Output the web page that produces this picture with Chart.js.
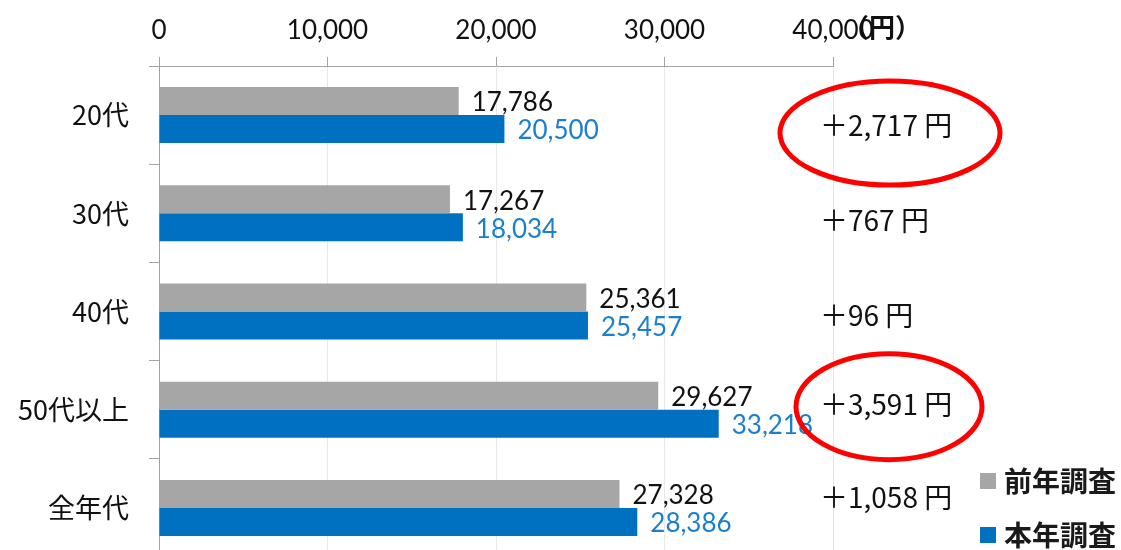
<!DOCTYPE html>
<html>
<head>
<meta charset="utf-8">
<script src="https://cdn.jsdelivr.net/npm/chart.js@4.4.1/dist/chart.umd.min.js"></script>
<style>
  html, body { margin: 0; padding: 0; background: #ffffff; overflow: hidden; }
  #wrap { width: 1121px; height: 550px; overflow: hidden; position: relative; }
  canvas { display: block; }
</style>
</head>
<body>
<div id="wrap"><canvas id="c" width="1121" height="557"></canvas></div>
<script>
// ---- data ----
const categories = ['20代', '30代', '40代', '50代以上', '全年代'];
const seriesNames = ['前年調査', '本年調査'];
const prevYear = [17786, 17267, 25361, 29627, 27328];
const thisYear = [20500, 18034, 25457, 33218, 28386];
const diffLabels = ['＋2,717 円', '＋767 円', '＋96 円', '＋3,591 円', '＋1,058 円'];
const xTicks = [0, 10000, 20000, 30000, 40000];
const unitLabel = '（円）';
const highlighted = [0, 3];

// ---- styles ----
const barColors = ['#A6A6A6', '#0070C0'];
const labelColors = ['#111111', '#1a7fcf'];
const axisGray = '#a3a3a3';
const numFont = "Lato, 'Open Sans', sans-serif";
const jpFont = "'Noto Sans CJK JP', 'Noto Sans', sans-serif";
const diffOffsetY = [10, 7, 4, -5, -11];
const ellipseLayout = [
  { dx: 57, dy: 18, rx: 110, ry: 52 },
  { dx: 56, dy: -3, rx: 93, ry: 53 }
];

const fmt = v => v.toLocaleString('en-US');

const annotationPlugin = {
  id: 'annotations',
  afterDatasetsDraw(chart) {
    const ctx = chart.ctx;
    chart.data.datasets.forEach((ds, di) => {
      const meta = chart.getDatasetMeta(di);
      meta.data.forEach((bar, i) => {
        ctx.save();
        ctx.font = '26px ' + numFont;
        ctx.fillStyle = labelColors[di];
        ctx.textAlign = 'left';
        ctx.textBaseline = 'middle';
        ctx.fillText(fmt(ds.data[i]), bar.x + 13, bar.y + 2);
        ctx.restore();
      });
    });
  },
  afterDraw(chart) {
    const ctx = chart.ctx;
    const yScale = chart.scales.y;
    const xScale = chart.scales.x;
    const textX = xScale.right - 13;
    diffLabels.forEach((t, i) => {
      ctx.save();
      ctx.font = '28px ' + jpFont;
      ctx.fillStyle = '#111111';
      ctx.textAlign = 'left';
      ctx.textBaseline = 'middle';
      ctx.fillText(t, textX, yScale.getPixelForValue(i) + diffOffsetY[i]);
      ctx.restore();
    });
    highlighted.forEach((idx, k) => {
      const L = ellipseLayout[k];
      ctx.save();
      ctx.strokeStyle = '#ff0000';
      ctx.lineWidth = 5;
      ctx.beginPath();
      ctx.ellipse(xScale.right + L.dx, yScale.getPixelForValue(idx) + L.dy, L.rx, L.ry, 0, 0, Math.PI * 2);
      ctx.stroke();
      ctx.restore();
    });
    ctx.save();
    ctx.font = 'bold 26px ' + jpFont;
    ctx.fillStyle = '#111111';
    ctx.textAlign = 'left';
    ctx.textBaseline = 'middle';
    ctx.fillText(unitLabel, xScale.right + 10, 27);
    ctx.restore();
    const legY = [481, 535];
    chart.data.datasets.forEach((ds, di) => {
      ctx.save();
      ctx.fillStyle = ds.backgroundColor;
      ctx.fillRect(980, legY[di] - 8, 16, 16);
      ctx.font = 'bold 28px ' + jpFont;
      ctx.fillStyle = '#1a1a1a';
      ctx.textAlign = 'left';
      ctx.textBaseline = 'middle';
      ctx.fillText(ds.label, 1004, legY[di]);
      ctx.restore();
    });
  }
};

new Chart(document.getElementById('c'), {
  type: 'bar',
  data: {
    labels: categories,
    datasets: [
      { label: seriesNames[0], data: prevYear, backgroundColor: barColors[0] },
      { label: seriesNames[1], data: thisYear, backgroundColor: barColors[1] }
    ]
  },
  options: {
    indexAxis: 'y',
    responsive: false,
    animation: false,
    devicePixelRatio: 1,
    datasets: { bar: { categoryPercentage: 0.57, barPercentage: 1.0 } },
    layout: { padding: { left: 0, right: 288, top: 0, bottom: 0 } },
    plugins: { legend: { display: false }, tooltip: { enabled: false } },
    scales: {
      x: {
        position: 'top',
        min: xTicks[0],
        max: xTicks[xTicks.length - 1],
        afterBuildTicks(scale) { scale.ticks = xTicks.map(v => ({ value: v })); },
        afterFit(scale) { scale.height = 66; scale.paddingLeft = 0; scale.paddingRight = 0; },
        ticks: {
          callback: v => fmt(v),
          color: '#111111',
          font: { family: numFont, size: 26 },
          padding: 11,
          maxRotation: 0
        },
        grid: { color: '#e8e8e8', tickColor: axisGray, tickLength: 9, lineWidth: 1 },
        border: { display: true, color: axisGray, width: 1 }
      },
      y: {
        afterFit(scale) { scale.width = 159; scale.paddingTop = 0; scale.paddingBottom = 0; },
        ticks: {
          color: '#111111',
          font: { family: jpFont, size: 27 },
          padding: 20
        },
        grid: { drawOnChartArea: false, tickColor: axisGray, tickLength: 10, offset: true },
        border: { display: true, color: axisGray, width: 1 }
      }
    }
  },
  plugins: [annotationPlugin]
});
</script>
</body>
</html>
